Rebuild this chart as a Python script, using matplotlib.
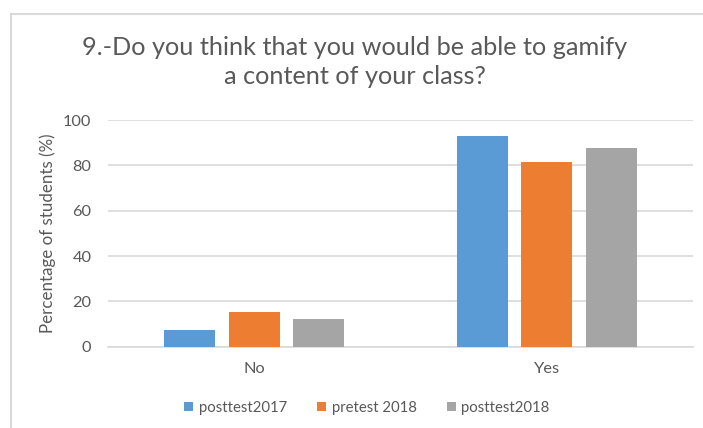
import matplotlib
matplotlib.use("Agg")
import matplotlib.pyplot as plt
import numpy as np
from matplotlib.patches import Rectangle

categories = ["No", "Yes"]
series_names = ["posttest2017", "pretest 2018", "posttest2018"]
posttest2017 = [7.4, 93.0]
pretest2018 = [15.3, 81.6]
posttest2018 = [12.4, 87.8]
yticks = [0, 20, 40, 60, 80, 100]

colors = ["#5B9BD5", "#ED7D31", "#A5A5A5"]
txt = "#595959"
plt.rcParams['font.family'] = ['Lato', 'DejaVu Sans']

W, H = 703, 428
fig = plt.figure(figsize=(W / 100, H / 100), dpi=100)
# chart border
fig.patches.append(Rectangle((11 / W, -0.1), 1.2, (H - 14) / H + 0.1, transform=fig.transFigure,
                             fill=False, edgecolor="#D9D9D9", linewidth=1.5))

ax = fig.add_axes([108 / W, (H - 346.7) / H, (693 - 108) / W, (346.7 - 120) / H])
x = np.arange(len(categories))
bw = 0.175
off = 0.22
for i, (vals, name) in enumerate(zip([posttest2017, pretest2018, posttest2018], series_names)):
    ax.bar(x + (i - 1) * off, vals, width=bw, color=colors[i], label=name, zorder=3)

ax.set_xlim(-0.5, 1.5)
ax.set_ylim(0, 100)
ax.set_yticks(yticks)
ax.set_xticks(x)
ax.set_xticklabels(categories)
ax.grid(axis="y", color="#D9D9D9", linewidth=1.2, zorder=0)
for s in ["top", "right", "left"]:
    ax.spines[s].set_visible(False)
ax.spines["bottom"].set_color("#D9D9D9")
ax.spines["bottom"].set_linewidth(1.2)
ax.tick_params(axis="both", length=0, colors=txt, labelsize=11.8)
ax.tick_params(axis="y", pad=12)
ax.tick_params(axis="x", pad=11)
ax.set_ylabel("Percentage of students (%)", color=txt, fontsize=12.2, labelpad=5)

fig.text(0.505, (H - 62) / H, "9.-Do you think that you would be able to gamify\na content of your class?",
         ha="center", va="center", color=txt, fontsize=18.2, linespacing=1.35)

leg = fig.legend(loc="center", bbox_to_anchor=(367 / W, (H - 408) / H), ncol=3, frameon=False,
                 fontsize=10.7, handlelength=0.6, handleheight=0.6, handletextpad=0.4,
                 columnspacing=2.0, labelcolor=txt)

fig.savefig("out.png", dpi=100)
